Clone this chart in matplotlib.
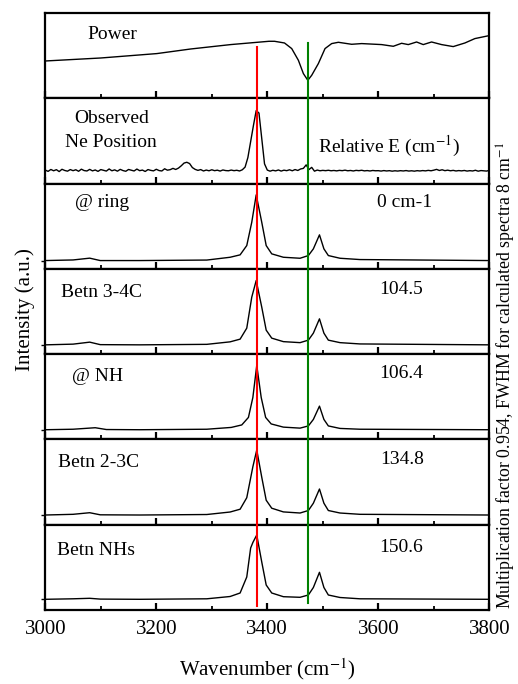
import numpy as np
import matplotlib
matplotlib.use("Agg")
import matplotlib.pyplot as plt
from matplotlib.transforms import blended_transform_factory
from matplotlib.lines import Line2D

plt.rcParams['font.family'] = ['Liberation Serif', 'DejaVu Serif']
plt.rcParams['mathtext.fontset'] = 'stix'

# ---------------- data ----------------
power_x = [3000, 3100, 3201, 3262, 3334, 3403, 3413, 3431, 3444, 3456, 3465, 3473,
           3480, 3492, 3504, 3516, 3528, 3552, 3570, 3606, 3627, 3642, 3654, 3669,
           3681, 3696, 3714, 3735, 3756, 3774, 3800]
power_y = [37.3, 40.3, 44.7, 49.3, 53.7, 57.0, 57.0, 55.3, 49.7, 38.0, 24.7, 18.0,
           23.0, 34.7, 49.7, 54.7, 56.0, 54.0, 54.7, 53.7, 52.0, 55.0, 53.7, 56.3,
           53.7, 56.3, 53.7, 51.7, 55.3, 59.7, 62.7]

obs_x = list(range(3000, 3805, 5))
obs_y = [13.5, 12.2, 14.1, 12.8, 13.9, 12.0, 14.3, 13.1, 12.4, 14.0, 12.9, 13.8, 12.3, 14.4, 13.0, 12.6, 14.2, 12.7, 13.6, 12.2,
         14.0, 13.2, 12.5, 14.6, 12.8, 13.7, 12.4, 14.2, 13.0, 12.3, 14.1, 13.3, 12.6, 14.5, 12.9, 13.5, 12.1, 14.0, 13.2, 12.7,
         14.3, 13.0, 12.6, 14.8, 13.4, 13.9, 15.2, 14.1, 15.5, 17.8, 20.5, 21.3, 20.0, 16.0, 14.2, 13.2, 14.0, 12.6, 13.5, 12.8,
         13.8, 12.9, 13.4, 12.5, 13.6, 13.0, 12.8, 13.5, 12.9, 13.3, 12.6, 13.8, 16.5, 26.0, 42.0, 58.0, 73.0, 70.5, 45.0, 19.7,
         13.5, 12.4, 13.3, 12.7, 13.6, 12.5, 13.4, 12.9, 13.8, 12.8, 14.0, 13.1, 14.6, 15.2, 18.7, 14.0, 16.2, 12.4, 13.5, 12.8,
         13.2, 12.9, 13.3, 12.8, 13.1, 12.7, 13.2, 12.9, 13.4, 12.8, 13.1, 12.6, 13.2, 12.9, 13.3, 12.7, 13.0, 12.6, 13.1, 12.8,
         12.9, 12.5, 13.0, 12.6, 12.9, 12.4, 12.8, 12.5, 12.9, 12.6, 13.0, 12.5, 12.8, 12.4, 12.9, 12.6, 13.0, 12.7, 13.2, 12.8,
         13.4, 14.2, 13.1, 13.8, 12.9, 13.4, 12.8, 13.2, 12.6, 13.0, 12.7, 13.1, 12.5, 12.9, 12.6, 13.3, 12.4, 13.0, 12.8, 12.5, 13.2]

ring_x = [3000, 3050, 3080, 3099, 3170, 3291, 3333, 3351, 3363, 3372, 3380, 3390,
          3398, 3408, 3429, 3459, 3474, 3483, 3494, 3502, 3510, 3531, 3567, 3800]
ring_y = [8.3, 8.9, 10.7, 8.3, 8.3, 8.8, 11.6, 14.0, 23.3, 46.6, 74.0, 46.6,
          23.3, 15.0, 11.6, 10.6, 13.3, 20.0, 34.0, 20.0, 13.3, 10.6, 9.3, 8.3]

c34_x = [3000, 3050, 3080, 3099, 3170, 3291, 3333, 3351, 3363, 3372, 3380, 3390,
         3398, 3408, 3429, 3459, 3474, 3483, 3494, 3502, 3510, 3531, 3567, 3800]
c34_y = [9.3, 10.0, 12.0, 9.5, 9.3, 9.8, 12.3, 15.0, 26.0, 57.0, 73.6, 47.0,
         24.0, 16.0, 12.5, 11.5, 14.0, 21.0, 35.3, 21.0, 14.0, 11.5, 10.2, 9.3]

nh_x = [3000, 3050, 3090, 3110, 3170, 3291, 3335, 3354, 3366, 3374, 3381, 3389,
        3397, 3407, 3429, 3459, 3474, 3483, 3494, 3502, 3510, 3531, 3567, 3800]
nh_y = [9.7, 10.2, 11.7, 9.9, 9.7, 10.2, 12.0, 14.5, 22.0, 42.0, 74.0, 42.0,
        22.0, 15.5, 12.3, 11.3, 13.5, 20.0, 33.3, 20.0, 13.5, 11.0, 10.2, 9.7]

c23_x = [3000, 3050, 3080, 3099, 3170, 3291, 3333, 3351, 3363, 3374, 3381, 3390,
         3398, 3408, 3429, 3459, 3474, 3483, 3494, 3502, 3510, 3531, 3567, 3800]
c23_y = [9.7, 10.4, 12.0, 9.9, 9.7, 10.2, 12.7, 15.5, 27.0, 58.0, 74.7, 47.5,
         24.5, 16.5, 12.8, 11.7, 14.2, 21.5, 35.7, 21.5, 14.2, 11.7, 10.4, 9.7]

nhs_x = [3000, 3050, 3080, 3099, 3170, 3291, 3333, 3351, 3363, 3370, 3374, 3381,
         3390, 3398, 3408, 3429, 3459, 3474, 3483, 3494, 3502, 3510, 3531, 3567, 3800]
nhs_y = [10.7, 11.2, 11.7, 10.9, 10.7, 11.2, 13.5, 17.0, 33.0, 62.0, 67.5, 75.0,
         48.0, 25.0, 17.0, 13.3, 12.7, 15.0, 22.5, 37.7, 22.5, 15.0, 12.5, 11.2, 10.7]

baselines = [None, None, 8.3, 9.3, 9.7, 9.7, 10.7]

panel_labels = ['Power', 'Observed\nNe Position', '@ ring', 'Betn 3-4C', '@ NH', 'Betn 2-3C', 'Betn NHs']
rel_energies = ['', '', '0 cm-1', '104.5', '106.4', '134.8', '150.6']

red_x = 3382
green_x = 3473

xticks_major = [3000, 3200, 3400, 3600, 3800]
xticks_minor = [3100, 3300, 3500, 3700]

# ---------------- figure ----------------
W, H = 518, 684
fig = plt.figure(figsize=(W / 100, H / 100), dpi=100)

left_px, right_px = 45.3, 489.3
top_px, bot_px = 13.0, 610.0
n = 7
ph = (bot_px - top_px) / n

series = [(power_x, power_y), (obs_x, obs_y), (ring_x, ring_y), (c34_x, c34_y),
          (nh_x, nh_y), (c23_x, c23_y), (nhs_x, nhs_y)]

axes = []
for i in range(n):
    y_top = top_px + i * ph
    ax = fig.add_axes([left_px / W, 1 - (y_top + ph) / H, (right_px - left_px) / W, ph / H])
    x, y = series[i]
    ax.plot(x, y, color='black', lw=1.0)
    ax.set_xlim(3000, 3800)
    ax.set_ylim(0, ph)
    for s in ax.spines.values():
        s.set_linewidth(1.6)
    ax.set_xticks(xticks_major)
    ax.set_xticks(xticks_minor, minor=True)
    ax.tick_params(axis='x', which='major', direction='in', length=5, width=1.6,
                   top=False, bottom=True, labelsize=15, pad=7)
    ax.tick_params(axis='x', which='minor', direction='in', length=3, width=1.3,
                   top=False, bottom=True)
    if baselines[i] is not None:
        ax.set_yticks([baselines[i]])
    else:
        ax.set_yticks([])
    ax.tick_params(axis='y', direction='out', length=3, width=1.0, labelleft=False)
    if i < n - 1:
        ax.tick_params(axis='x', labelbottom=False)
    axes.append(ax)

# panel labels
def ft(px, py, s, **kw):
    fig.text(px / W, 1 - py / H, s, **kw)

ft(112, 39, 'Power', fontsize=14, ha='center', va='baseline')
ft(112, 122.7, 'Observed', fontsize=14, ha='center', va='baseline')
ft(111, 146.7, 'Ne Position', fontsize=14, ha='center', va='baseline')
ft(318, 152.3, r'Relative E (cm$^{-1}$)', fontsize=14, ha='left', va='baseline')

lab_pos = [None, None, (75, 206.7), (60.7, 296.7), (71.7, 380.7), (58.3, 467.3), (57.3, 555)]
val_pos = [None, None, (376.7, 206.7), (379, 294), (379, 378.3), (380, 464.3), (379, 551.7)]
for i in range(2, 7):
    ft(lab_pos[i][0], lab_pos[i][1], panel_labels[i], fontsize=14, ha='left', va='baseline')
    ft(val_pos[i][0], val_pos[i][1], rel_energies[i], fontsize=14, ha='left', va='baseline')

# reference lines spanning the panels
bt = blended_transform_factory(axes[-1].transData, fig.transFigure)
fig.add_artist(Line2D([red_x, red_x], [1 - 47 / H, 1 - 606 / H], transform=bt,
                      color='#ff0000', lw=1.5, zorder=10))
fig.add_artist(Line2D([green_x, green_x], [1 - 43 / H, 1 - 603 / H], transform=bt,
                      color='#008000', lw=1.5, zorder=10))

# axis labels
ft(267, 675, r'Wavenumber (cm$^{-1}$)', fontsize=15, ha='center', va='baseline')
ft(25, 310, 'Intensity (a.u.)', fontsize=15, ha='center', va='center', rotation=90)
ft(506, 375, r'Multiplication factor 0.954, FWHM for calculated spectra 8 cm$^{-1}$',
   fontsize=12.8, ha='center', va='center', rotation=90)

fig.savefig('out.png', dpi=100)
